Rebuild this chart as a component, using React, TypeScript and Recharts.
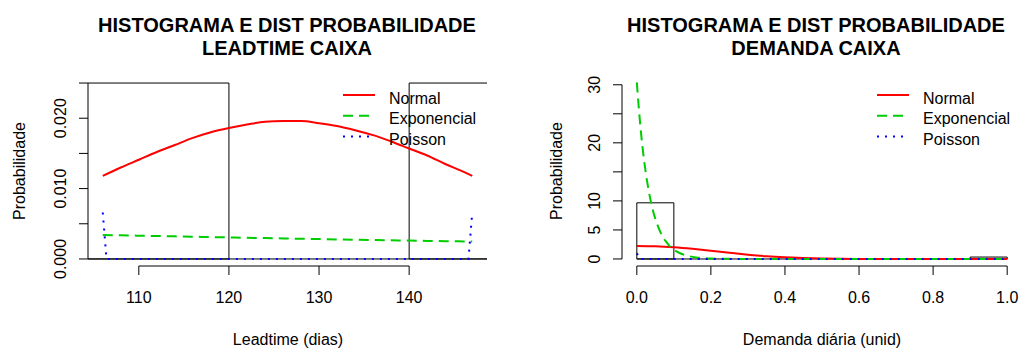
import React from "react";
import {
  ComposedChart,
  Line,
  XAxis,
  YAxis,
  ReferenceArea,
  ReferenceLine,
  Legend,
} from "recharts";

const FONT = '"Liberation Sans", Arial, Helvetica, sans-serif';

// Leadtime (left panel)
const leadBinEdges = [100, 120, 140, 160];
const leadDensity = [0.025, 0, 0.025];
const leadX = [106, 108, 110, 112, 114, 116, 118, 120, 122, 124, 126, 128, 130, 132, 134, 136, 138, 140, 142, 144, 146, 147];
const leadNormal = [0.0118, 0.013, 0.0141, 0.0152, 0.0162, 0.0172, 0.018, 0.0186, 0.0191, 0.0195, 0.0196, 0.0196, 0.0193, 0.0189, 0.0183, 0.0176, 0.0167, 0.0157, 0.0147, 0.0135, 0.0124, 0.0118];
const leadExp = [0.00342, 0.00336, 0.00331, 0.00326, 0.00321, 0.00316, 0.00311, 0.00306, 0.00301, 0.00297, 0.00292, 0.00287, 0.00283, 0.00278, 0.00274, 0.0027, 0.00266, 0.00261, 0.00257, 0.00253, 0.00249, 0.00247];
const leadPoissonX = [106, 106.41, 146.59, 147];
const leadPoisson = [0.0066, 0, 0, 0.0066];
const leadXTicks = [110, 120, 130, 140];
const leadXLabels = ["110", "120", "130", "140"];
const leadYTicks = [0, 0.005, 0.01, 0.015, 0.02, 0.025];
const leadYLabels = ["0.000", "", "0.010", "", "0.020", ""];

// Demanda (right panel)
const demBinEdges = [0, 0.1, 0.2, 0.3, 0.4, 0.5, 0.6, 0.7, 0.8, 0.9, 1];
const demDensity = [9.67, 0, 0, 0, 0, 0, 0, 0, 0, 0.33];
const demExpX = [0, 0.01, 0.02, 0.03, 0.04, 0.05, 0.06, 0.07, 0.08, 0.09, 0.1, 0.12, 0.14, 0.16, 0.18, 0.2, 0.25, 0.3, 0.5, 1];
const demExp = [30.4, 22.6, 16.8, 12.5, 9.3, 6.9, 5.2, 3.8, 2.9, 2.1, 1.6, 0.9, 0.5, 0.27, 0.15, 0.08, 0.02, 0.005, 0, 0];
const demNormX = [0, 0.05, 0.1, 0.15, 0.2, 0.25, 0.3, 0.35, 0.4, 0.45, 0.5, 0.55, 0.6, 0.7, 0.8, 0.9, 1];
const demNormal = [2.24, 2.17, 2.0, 1.74, 1.42, 1.07, 0.74, 0.47, 0.28, 0.15, 0.075, 0.035, 0.015, 0.002, 0, 0, 0];
const demPoissonX = [0, 0.01, 0.99, 1];
const demPoisson = [0.97, 0, 0, 0.03];
const demXTicks = [0, 0.2, 0.4, 0.6, 0.8, 1];
const demXLabels = ["0.0", "0.2", "0.4", "0.6", "0.8", "1.0"];
const demYTicks = [0, 5, 10, 15, 20, 25, 30];
const demYLabels = ["0", "5", "10", "", "20", "", "30"];

const seriesNames = ["Normal", "Exponencial", "Poisson"];
const seriesColors = ["#FF0000", "#00CD00", "#0000FF"];
const seriesDash = [undefined, "10 6", "2 6"];

const pts = (xs: number[], ys: number[]) => xs.map((x, i) => ({ x, y: ys[i] }));

type PanelProps = {
  left: number;
  width: number;
  yAxisWidth: number;
  rightMargin: number;
  xDomain: [number, number];
  yDomain: [number, number];
  xTicks: number[];
  xLabels: string[];
  yTicks: number[];
  yLabels: string[];
  binEdges: number[];
  density: number[];
  series: { x: number; y: number }[][];
  legendLeft: number;
};

function Panel(p: PanelProps) {
  const xTick = (props: any) => {
    const i = p.xTicks.indexOf(props.payload.value);
    return (
      <text x={props.x} y={props.y} dy={28} textAnchor="middle" fontSize={16} fontFamily={FONT} fill="#000">
        {p.xLabels[i]}
      </text>
    );
  };
  const yTick = (props: any) => {
    const i = p.yTicks.indexOf(props.payload.value);
    const tx = props.x - 13;
    return (
      <text
        x={tx}
        y={props.y}
        textAnchor="middle"
        transform={`rotate(-90, ${tx}, ${props.y})`}
        fontSize={16}
        fontFamily={FONT}
        fill="#000"
      >
        {p.yLabels[i]}
      </text>
    );
  };
  const legendContent = () => (
    <svg width={170} height={64} style={{ overflow: "visible" }}>
      {seriesNames.map((n, i) => (
        <g key={n}>
          <line x1={0} x2={32} y1={10 + 20.7 * i} y2={10 + 20.7 * i} stroke={seriesColors[i]} strokeWidth={2} strokeDasharray={seriesDash[i]} />
          <text x={46} y={18.5 + 20.7 * i} fontSize={16} fontFamily={FONT} fill="#000">
            {n}
          </text>
        </g>
      ))}
    </svg>
  );
  const lastX = p.xTicks[p.xTicks.length - 1];
  const lastY = p.yTicks[p.yTicks.length - 1];
  return (
    <div style={{ position: "absolute", left: p.left, top: 0 }}>
      <ComposedChart width={p.width} height={349} margin={{ top: 76, right: p.rightMargin, bottom: 0, left: 0 }}>
        <XAxis
          dataKey="x"
          type="number"
          domain={p.xDomain}
          allowDataOverflow
          ticks={p.xTicks}
          interval={0}
          height={83}
          tickSize={9}
          tickMargin={0}
          axisLine={false}
          tickLine={{ stroke: "#000" }}
          tick={xTick}
        />
        <YAxis
          type="number"
          domain={p.yDomain}
          allowDataOverflow
          ticks={p.yTicks}
          interval={0}
          width={p.yAxisWidth}
          tickSize={9}
          tickMargin={0}
          axisLine={false}
          tickLine={{ stroke: "#000" }}
          tick={yTick}
        />
        {p.density.map((d, i) =>
          d > 0 ? (
            <ReferenceArea
              key={i}
              x1={p.binEdges[i]}
              x2={p.binEdges[i + 1]}
              y1={0}
              y2={d}
              fill="none"
              stroke="#000"
              strokeWidth={1}
              ifOverflow="hidden"
            />
          ) : null
        )}
        <ReferenceLine
          segment={[
            { x: p.binEdges[0], y: 0 },
            { x: p.binEdges[p.binEdges.length - 1], y: 0 },
          ]}
          stroke="#000"
          ifOverflow="hidden"
        />
        <ReferenceLine
          segment={[
            { x: p.xTicks[0], y: p.yDomain[0] },
            { x: lastX, y: p.yDomain[0] },
          ]}
          stroke="#000"
          ifOverflow="visible"
        />
        <ReferenceLine
          segment={[
            { x: p.xDomain[0], y: p.yTicks[0] },
            { x: p.xDomain[0], y: lastY },
          ]}
          stroke="#000"
          ifOverflow="visible"
        />
        {p.series.map((s, i) => (
          <Line
            key={seriesNames[i]}
            name={seriesNames[i]}
            data={s}
            dataKey="y"
            type={i === 2 ? "linear" : "monotone"}
            stroke={seriesColors[i]}
            strokeWidth={2}
            strokeDasharray={seriesDash[i]}
            dot={false}
            activeDot={false}
            isAnimationActive={false}
          />
        ))}
        <Legend
          layout="vertical"
          align="center"
          verticalAlign="middle"
          content={legendContent}
          wrapperStyle={{ left: p.legendLeft, top: 85, width: 170, height: 64 }}
        />
      </ComposedChart>
    </div>
  );
}

export default function App() {
  return (
    <div
      style={{
        position: "absolute",
        left: 0,
        top: 0,
        width: 1020,
        height: 349,
        overflow: "hidden",
        background: "#fff",
        fontFamily: FONT,
      }}
    >
      <Panel
        left={0}
        width={510}
        yAxisWidth={88}
        rightMargin={23}
        xDomain={[104.36, 148.64]}
        yDomain={[-0.001, 0.026]}
        xTicks={leadXTicks}
        xLabels={leadXLabels}
        yTicks={leadYTicks}
        yLabels={leadYLabels}
        binEdges={leadBinEdges}
        density={leadDensity}
        series={[pts(leadX, leadNormal), pts(leadX, leadExp), pts(leadPoissonX, leadPoisson)]}
        legendLeft={343}
      />
      <Panel
        left={500}
        width={522}
        yAxisWidth={122}
        rightMargin={0}
        xDomain={[-0.04, 1.04]}
        yDomain={[-1.21, 31.51]}
        xTicks={demXTicks}
        xLabels={demXLabels}
        yTicks={demYTicks}
        yLabels={demYLabels}
        binEdges={demBinEdges}
        density={demDensity}
        series={[pts(demNormX, demNormal), pts(demExpX, demExp), pts(demPoissonX, demPoisson)]}
        legendLeft={377}
      />
      <svg width={1020} height={349} style={{ position: "absolute", left: 0, top: 0, pointerEvents: "none" }}>
        <g fontFamily={FONT} fill="#000">
          <text x={287} y={32} textAnchor="middle" fontSize={20} fontWeight="bold">HISTOGRAMA E DIST PROBABILIDADE</text>
          <text x={287} y={55} textAnchor="middle" fontSize={20} fontWeight="bold">LEADTIME CAIXA</text>
          <text x={816} y={32} textAnchor="middle" fontSize={20} fontWeight="bold">HISTOGRAMA E DIST PROBABILIDADE</text>
          <text x={816} y={55} textAnchor="middle" fontSize={20} fontWeight="bold">DEMANDA CAIXA</text>
          <text x={288} y={345} textAnchor="middle" fontSize={16}>Leadtime (dias)</text>
          <text x={822} y={345} textAnchor="middle" fontSize={16}>Demanda diária (unid)</text>
          <text x={25} y={171} textAnchor="middle" fontSize={16} transform="rotate(-90, 25, 171)">Probabilidade</text>
          <text x={562} y={171} textAnchor="middle" fontSize={16} transform="rotate(-90, 562, 171)">Probabilidade</text>
        </g>
      </svg>
    </div>
  );
}
